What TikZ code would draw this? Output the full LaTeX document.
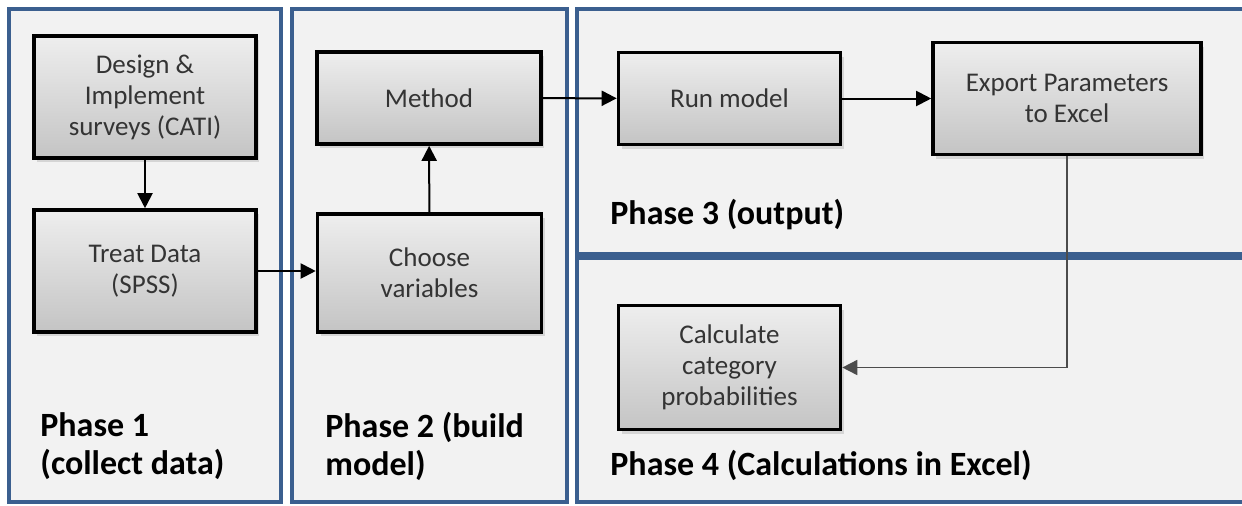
\documentclass[tikz,border=0pt]{standalone}
\usepackage{fontspec}
\setmainfont{Carlito}
\usetikzlibrary{arrows.meta, positioning, calc, shadows}

\definecolor{panelblue}{RGB}{59,95,143}
\definecolor{panelfill}{RGB}{242,242,242}
\definecolor{boxtop}{RGB}{238,238,238}
\definecolor{boxbottom}{RGB}{196,196,196}
\definecolor{boxtext}{RGB}{52,52,52}

\begin{document}
\begin{tikzpicture}[x=0.5pt,y=-0.5pt,
		panel/.style={draw=panelblue,fill=panelfill,line width=1.7pt},
		stage/.style={draw=black,line width=1.8pt,top color=boxtop,bottom color=boxbottom,text=boxtext,align=center,
			font=\fontsize{13.5}{15.5}\selectfont,drop shadow={opacity=0.25,shadow xshift=1.5pt,shadow yshift=-2pt}},
		phase/.style={anchor=west,align=left,inner sep=0pt,font=\fontsize{17}{19}\selectfont\bfseries},
		flow/.style={-{Triangle[length=7.5pt,width=7.5pt]},line width=1pt}]
			\useasboundingbox (0,0) rectangle (1242,505);
			%panels
			\draw[panel] (9,9) rectangle (281,502);
			\draw[panel] (292,9) rectangle (567,502);
			\draw[panel] (577,9) rectangle (1250,254);
			\draw[panel] (577,258) rectangle (1250,502);
			\node[phase] (p1) at (40,446) {Phase 1\\(collect data)};
			\node[phase] (p2) at (325,446) {Phase 2 (build\\model)};
			\node[phase] (p3) at (610,215) {Phase 3 (output)};
			\node[phase] (p4) at (610,465) {Phase 4 (Calculations in Excel)};
			%boxes
			\node[stage,minimum width=111pt,minimum height=61pt] (design) at (145,97) {Design \&\\Implement\\surveys (CATI)};
			\node[stage,minimum width=111pt,minimum height=61pt] (treat) at (145,271) {Treat Data\\(SPSS)};
			\node[stage,minimum width=112pt,minimum height=46pt] (method) at (429,98) {Method};
			\node[stage,minimum width=112pt,minimum height=59pt] (choose) at (429.5,273) {Choose\\variables};
			\node[stage,minimum width=111pt,minimum height=46pt] (run) at (729.5,98.5) {Run model};
			\node[stage,minimum width=134pt,minimum height=56pt] (export) at (1067,98.5) {Export Parameters\\to Excel};
			\node[stage,minimum width=111pt,minimum height=62pt] (calc) at (729.5,367.5) {Calculate\\category\\probabilities};
			%connectors
			\draw[flow] (design) -- (treat);
			\draw[flow] (treat.east) -- (treat.east -| choose.west);
			\draw[flow] (choose) -- (method);
			\draw[flow] (method) -- (run);
			\draw[flow] (run) -- (export);
			\draw[flow,draw=black!70,line width=0.8pt] (export) |- (calc);
\end{tikzpicture}
\end{document}
